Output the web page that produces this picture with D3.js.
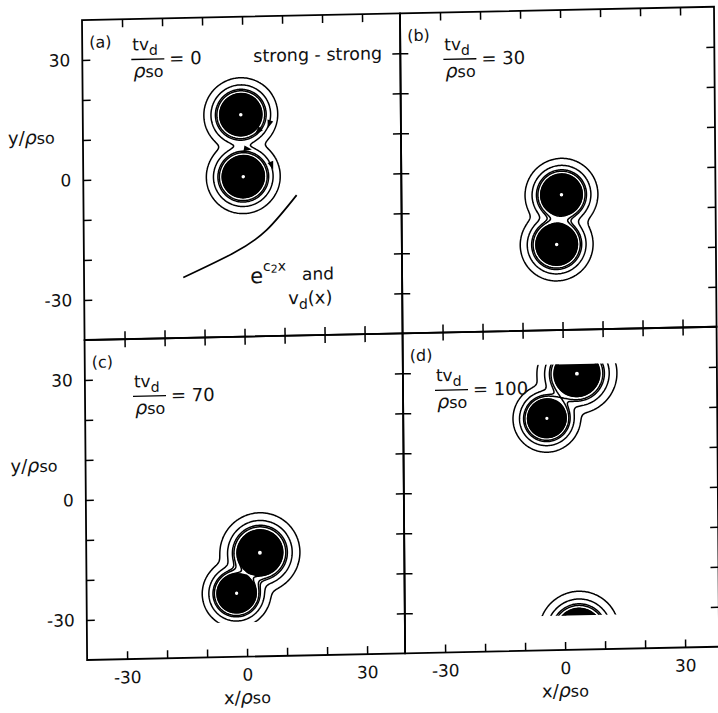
<!DOCTYPE html>
<html>
<head>
<meta charset="utf-8">
<script src="https://cdnjs.cloudflare.com/ajax/libs/d3/7.8.5/d3.min.js"></script>
<style>
body { margin: 0; background: #fff; }
text { font-family: "DejaVu Sans", sans-serif; fill: #111; }
</style>
</head>
<body>
<script>
var width = 718, height = 713;

// panels and their time t*v_d/rho_so
var panelLabels = ["(a)", "(b)", "(c)", "(d)"];
var panelTimes = ["0", "30", "70", "100"];

// vortex centres (x/rho_so, y/rho_so) and widths, one list per panel
// panel (d) lists the top vortex again at the bottom (box is periodic in y)
var vortexX = [[-0.5, 0], [0, -1.3], [3.4, -2.5], [3.5, -4.1, 3.5]];
var vortexY = [[15.5, 0], [-6.2, -18.6], [-14.1, -24.1], [29.0, 18.0, -35.4]];
var vortexW = [[3.6, 3.6], [3.55, 3.55], [3.9, 3.35], [3.9, 3.3, 3.9]];

// contour levels of the field
var lineLevels = [0.0014, 0.0138, 0.045, 0.0635, 0.12, 0.16];
var coreLevel = 0.1;
var dotLevel = 0.985;
var boxEdge = 31.4;

var tickValues = [-30, -20, -10, 0, 10, 20, 30];
var labelValues = [-30, 0, 30];

// gradient curve drawn in panel (a)
var curveX = [-15.2, -2.7, 5.7, 13.3];
var curveY = [-24.9, -19.1, -13.5, -4.9];

// flow arrows in panel (a): vortex, polar angle (deg), radius
var arrowVortex = [0, 0, 1, 1];
var arrowAngle = [-20, -45, 80, 20];
var arrowRadius = [7.5, 6.0, 7.0, 7.6];

// layout
var cols = [[82, 400], [400, 714]];
var rows = [[20, 340], [340, 660]];
var xDomains = [[-40, 39.5], [-40, 38.5]];
var fracAt = [[49, 40.5], [43, 47], [48, 57.4], [32, 57.7]];
var yTitleDy = [123, 131];

var svg = d3.select("body").append("svg")
    .attr("width", width)
    .attr("height", height);

var defs = svg.append("defs");

// the scanned figure is slightly sheared
var fig = svg.append("g")
    .attr("transform", "matrix(1,-0.021,0.008,1,-0.16,1.74)");

var step = 0.25, gMin = -34, gMax = 34,
    n = Math.round((gMax - gMin) / step) + 1;

var fmt = function(d) { return labelValues.indexOf(d) < 0 ? "" : (d < 0 ? "-" + (-d) : "" + d); };
var blank = function() { return ""; };

panelLabels.forEach(function(label, p) {
  var col = p % 2, row = Math.floor(p / 2);
  var x = d3.scaleLinear().domain(xDomains[col]).range(cols[col]);
  var y = d3.scaleLinear().domain([40, -40]).range(rows[row]);
  var g = fig.append("g").attr("id", "panel" + p);

  // field = sum of gaussian vortices
  var values = new Float64Array(n * n);
  for (var j = 0; j < n; j++) {
    var yy = gMax - j * step;
    for (var i = 0; i < n; i++) {
      var xx = gMin + i * step, v = 0;
      for (var k = 0; k < vortexX[p].length; k++) {
        var dx = xx - vortexX[p][k], dy = yy - vortexY[p][k], w = vortexW[p][k];
        v += Math.exp(-(dx * dx + dy * dy) / (w * w));
      }
      values[i + j * n] = v;
    }
  }

  var path = d3.geoPath(d3.geoTransform({
    point: function(gx, gy) {
      this.stream.point(x(gMin + (gx - 0.5) * step), y(gMax - (gy - 0.5) * step));
    }
  }));

  defs.append("clipPath").attr("id", "box" + p)
    .append("rect")
    .attr("x", x(-boxEdge)).attr("y", y(boxEdge))
    .attr("width", x(boxEdge) - x(-boxEdge))
    .attr("height", y(-boxEdge) - y(boxEdge));

  var field = g.append("g").attr("clip-path", "url(#box" + p + ")");

  field.selectAll("path.line")
    .data(d3.contours().size([n, n]).thresholds(lineLevels)(values))
    .enter().append("path")
    .attr("class", "line")
    .attr("d", path)
    .attr("fill", "none")
    .attr("stroke", "#000")
    .attr("stroke-width", 1.5);

  // dense inner contours of each vortex shown as a solid core
  var ids = d3.range(vortexX[p].length);
  var unit = x(1) - x(0);
  field.selectAll("circle.core")
    .data(ids)
    .enter().append("circle")
    .attr("class", "core")
    .attr("cx", function(k) { return x(vortexX[p][k]); })
    .attr("cy", function(k) { return y(vortexY[p][k]); })
    .attr("r", function(k) { return vortexW[p][k] * Math.sqrt(-Math.log(coreLevel)) * unit; })
    .attr("fill", "#000");
  field.selectAll("circle.dot")
    .data(ids)
    .enter().append("circle")
    .attr("class", "dot")
    .attr("cx", function(k) { return x(vortexX[p][k]); })
    .attr("cy", function(k) { return y(vortexY[p][k]); })
    .attr("r", function(k) { return vortexW[p][k] * Math.sqrt(-Math.log(dotLevel)) * unit; })
    .attr("fill", "#fff");

  // frame
  g.append("rect")
    .attr("x", cols[col][0]).attr("y", rows[row][0])
    .attr("width", cols[col][1] - cols[col][0])
    .attr("height", rows[row][1] - rows[row][0])
    .attr("fill", "none")
    .attr("stroke", "#000")
    .attr("stroke-width", 1.8);

  // inward ticks on all four sides
  var axes = [
    [d3.axisBottom(x), "translate(0," + rows[row][1] + ")", row === 1],
    [d3.axisTop(x), "translate(0," + rows[row][0] + ")", false],
    [d3.axisLeft(y), "translate(" + cols[col][0] + ",0)", col === 0],
    [d3.axisRight(y), "translate(" + cols[col][1] + ",0)", false]
  ];
  axes.forEach(function(a) {
    var ax = g.append("g").attr("transform", a[1])
      .call(a[0].tickValues(tickValues).tickSizeInner(-8).tickSizeOuter(0)
        .tickPadding(12).tickFormat(a[2] ? fmt : blank));
    ax.select(".domain").remove();
    ax.attr("font-size", 17).attr("font-family", null);
    ax.selectAll("line").attr("stroke", "#000").attr("stroke-width", 1.5);
    ax.selectAll("text").attr("fill", "#111");
  });

  // panel label and time
  g.append("text")
    .attr("x", cols[col][0] + 7).attr("y", rows[row][0] + 28)
    .attr("font-size", 16)
    .text(label);

  var bx = cols[col][0] + fracAt[p][0], by = rows[row][0] + fracAt[p][1];
  g.append("line")
    .attr("x1", bx).attr("x2", bx + 33).attr("y1", by).attr("y2", by)
    .attr("stroke", "#000").attr("stroke-width", 1.3);
  var num = g.append("text").attr("x", bx + 1).attr("y", by - 9).attr("font-size", 17).text("tv");
  num.append("tspan").attr("dy", 5).attr("font-size", 14).text("d");
  var den = g.append("text").attr("x", bx + 2).attr("y", by + 18).attr("font-size", 19);
  den.append("tspan").attr("font-style", "italic").text("ρ");
  den.append("tspan").attr("font-size", 16).text("so");
  g.append("text").attr("x", bx + 38).attr("y", by + 6).attr("font-size", 18)
    .text("= " + panelTimes[p]);

  // axis titles
  if (col === 0) {
    var yt = g.append("text").attr("x", cols[col][0] - 75).attr("y", rows[row][0] + yTitleDy[row])
      .attr("font-size", 18).text("y/");
    yt.append("tspan").attr("font-style", "italic").attr("font-size", 19).text("ρ");
    yt.append("tspan").attr("font-size", 16).text("so");
  }
  if (row === 1) {
    var xt = g.append("text").attr("x", x(0)).attr("y", rows[row][1] + 47)
      .attr("text-anchor", "middle").attr("font-size", 18).text("x/");
    xt.append("tspan").attr("font-style", "italic").attr("font-size", 19).text("ρ");
    xt.append("tspan").attr("font-size", 16).text("so");
  }

  if (p === 0) {
    g.append("text")
      .attr("x", cols[col][0] + 171).attr("y", rows[row][0] + 45.6)
      .attr("font-size", 17.5)
      .text("strong - strong");

    var line = d3.line()
      .x(function(i) { return x(curveX[i]); })
      .y(function(i) { return y(curveY[i]); })
      .curve(d3.curveNatural);
    g.append("path")
      .attr("d", line(d3.range(curveX.length)))
      .attr("fill", "none")
      .attr("stroke", "#000")
      .attr("stroke-width", 1.7);

    var e = g.append("text").attr("x", cols[col][0] + 166).attr("y", rows[row][0] + 266.7)
      .attr("font-size", 21).text("e");
    e.append("tspan").attr("dy", -12).attr("font-size", 14).text("c");
    e.append("tspan").attr("dy", 2).attr("font-size", 11).text("2");
    e.append("tspan").attr("dy", -2).attr("font-size", 14).text("x");
    g.append("text").attr("x", cols[col][0] + 218).attr("y", rows[row][0] + 264.5)
      .attr("font-size", 17).text("and");
    var vd = g.append("text").attr("x", cols[col][0] + 204).attr("y", rows[row][0] + 288.6)
      .attr("font-size", 18).text("v");
    vd.append("tspan").attr("dy", 5).attr("font-size", 14).text("d");
    vd.append("tspan").attr("dy", -5).attr("font-size", 18).text("(x)");

    arrowVortex.forEach(function(v, i) {
      var t = arrowAngle[i] * Math.PI / 180;
      var px = vortexX[0][v] + arrowRadius[i] * Math.cos(t),
          py = vortexY[0][v] + arrowRadius[i] * Math.sin(t);
      var rot = Math.atan2(Math.cos(t), Math.sin(t)) * 180 / Math.PI;
      g.append("path")
        .attr("d", "M-4,-3L4,0L-4,3Z")
        .attr("fill", "#000")
        .attr("transform", "translate(" + x(px) + "," + y(py) + ") rotate(" + rot + ")");
    });
  }
});
</script>
</body>
</html>
